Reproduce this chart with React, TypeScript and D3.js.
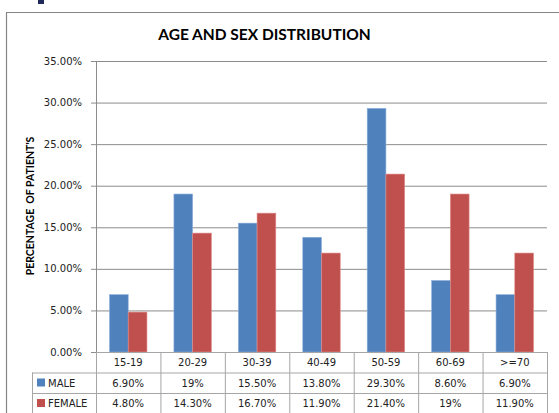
import React from "react";
import * as d3 from "d3";

const categories = ["15-19", "20-29", "30-39", "40-49", "50-59", "60-69", ">=70"];
const maleValues = [6.9, 19, 15.5, 13.8, 29.3, 8.6, 6.9];
const femaleValues = [4.8, 14.3, 16.7, 11.9, 21.4, 19, 11.9];
const maleLabels = ["6.90%", "19%", "15.50%", "13.80%", "29.30%", "8.60%", "6.90%"];
const femaleLabels = ["4.80%", "14.30%", "16.70%", "11.90%", "21.40%", "19%", "11.90%"];
const yTicks = [0, 5, 10, 15, 20, 25, 30, 35];
const seriesNames = ["MALE", "FEMALE"];
const seriesColors = ["#4F81BD", "#C0504D"];
const seriesStrokes = ["#8fb0dc", "#e08c8a"];

const W = 559;
const H = 413;
const plotL = 96;
const plotR = 547;
const plotT = 61;
const plotB = 352;
const rowH = 20.5;
const legendL = 32;

export default function App() {
  const x = d3.scaleBand<string>().domain(categories).range([plotL, plotR]).paddingInner(0).paddingOuter(0);
  const xs = d3.scaleBand<string>().domain(seriesNames).range([0, x.bandwidth()]).paddingInner(0).paddingOuter(0.72);
  const y = d3.scaleLinear().domain([0, 35]).range([plotB, plotT]);
  const series = [maleValues, femaleValues];
  const labels = [maleLabels, femaleLabels];
  const tickFont = "'DejaVu Sans', sans-serif";
  const grid = "#8c8c8c";
  const tableLine = "#a6a6a6";

  return (
    <svg width={W} height={H} style={{ position: "absolute", left: 0, top: 0, background: "#fff" }}>
      <rect x={38} y={0} width={6} height={4} fill="#1f2a5a" />
      {/* chart border */}
      <path d={`M6.5,${H} V12.5 H${W + 2}`} fill="none" stroke="#868686" strokeWidth={1.2} />
      <text x={264.5} y={40} textAnchor="middle" fontFamily="Lato, sans-serif" fontWeight={700} fontSize={15.5} fill="#000">
        AGE AND SEX DISTRIBUTION
      </text>
      {/* y title */}
      <text
        transform={`translate(33.5,206) rotate(-90)`}
        textAnchor="middle"
        fontFamily="Lato, sans-serif"
        fontWeight={700}
        fontSize={10.5}
        fill="#000"
        style={{ whiteSpace: "pre" }}
      >
        {"PERCENTAGE  OF PATIENT'S"}
      </text>
      {/* gridlines + ticks */}
      {yTicks.map((t) => (
        <g key={t}>
          {t > 0 && <line x1={plotL} x2={plotR} y1={y(t) + 0.5} y2={y(t) + 0.5} stroke={grid} strokeWidth={1} />}
          <line x1={plotL - 5} x2={plotL} y1={y(t) + 0.5} y2={y(t) + 0.5} stroke={grid} strokeWidth={1} />
          <text x={82} y={y(t) + 3.5} textAnchor="end" fontFamily={tickFont} fontSize={10} fill="#222">
            {t.toFixed(2) + "%"}
          </text>
        </g>
      ))}
      <line x1={plotL + 0.5} x2={plotL + 0.5} y1={plotT} y2={plotB} stroke={grid} strokeWidth={1} />
      {/* bars */}
      {series.map((vals, si) =>
        vals.map((v, i) => (
          <rect
            key={`${si}-${i}`}
            x={(x(categories[i]) as number) + (xs(seriesNames[si]) as number)}
            y={y(v)}
            width={xs.bandwidth()}
            height={plotB - y(v)}
            fill={seriesColors[si]}
            stroke={seriesStrokes[si]}
            strokeWidth={0.6}
          />
        ))
      )}
      {/* table */}
      <g>
        <line x1={plotL} x2={plotR} y1={plotB + 0.5} y2={plotB + 0.5} stroke={tableLine} />
        <line x1={legendL} x2={plotR} y1={plotB + rowH + 0.5} y2={plotB + rowH + 0.5} stroke={tableLine} />
        <line x1={legendL} x2={plotR} y1={plotB + 2 * rowH + 0.5} y2={plotB + 2 * rowH + 0.5} stroke={tableLine} />
        <line x1={legendL + 0.5} x2={legendL + 0.5} y1={plotB + rowH} y2={H} stroke={tableLine} />
        {categories.map((c) => (
          <line key={c} x1={(x(c) as number) + 0.5} x2={(x(c) as number) + 0.5} y1={plotB} y2={H} stroke={tableLine} />
        ))}
        <line x1={plotR + 0.5} x2={plotR + 0.5} y1={plotB} y2={H} stroke={tableLine} />
        {categories.map((c, i) => (
          <g key={c} fontFamily={tickFont} fontSize={10} fill="#222" textAnchor="middle">
            <text x={(x(c) as number) + x.bandwidth() / 2} y={plotB + 14}>{c}</text>
            <text x={(x(c) as number) + x.bandwidth() / 2} y={plotB + rowH + 14}>{labels[0][i]}</text>
            <text x={(x(c) as number) + x.bandwidth() / 2} y={plotB + 2 * rowH + 14}>{labels[1][i]}</text>
          </g>
        ))}
        {seriesNames.map((s, si) => (
          <g key={s}>
            <rect x={37} y={plotB + (si + 1) * rowH + 6} width={8} height={8} fill={seriesColors[si]} />
            <text x={48} y={plotB + (si + 1) * rowH + 14} fontFamily={tickFont} fontSize={10} fill="#222">{s}</text>
          </g>
        ))}
      </g>
    </svg>
  );
}
